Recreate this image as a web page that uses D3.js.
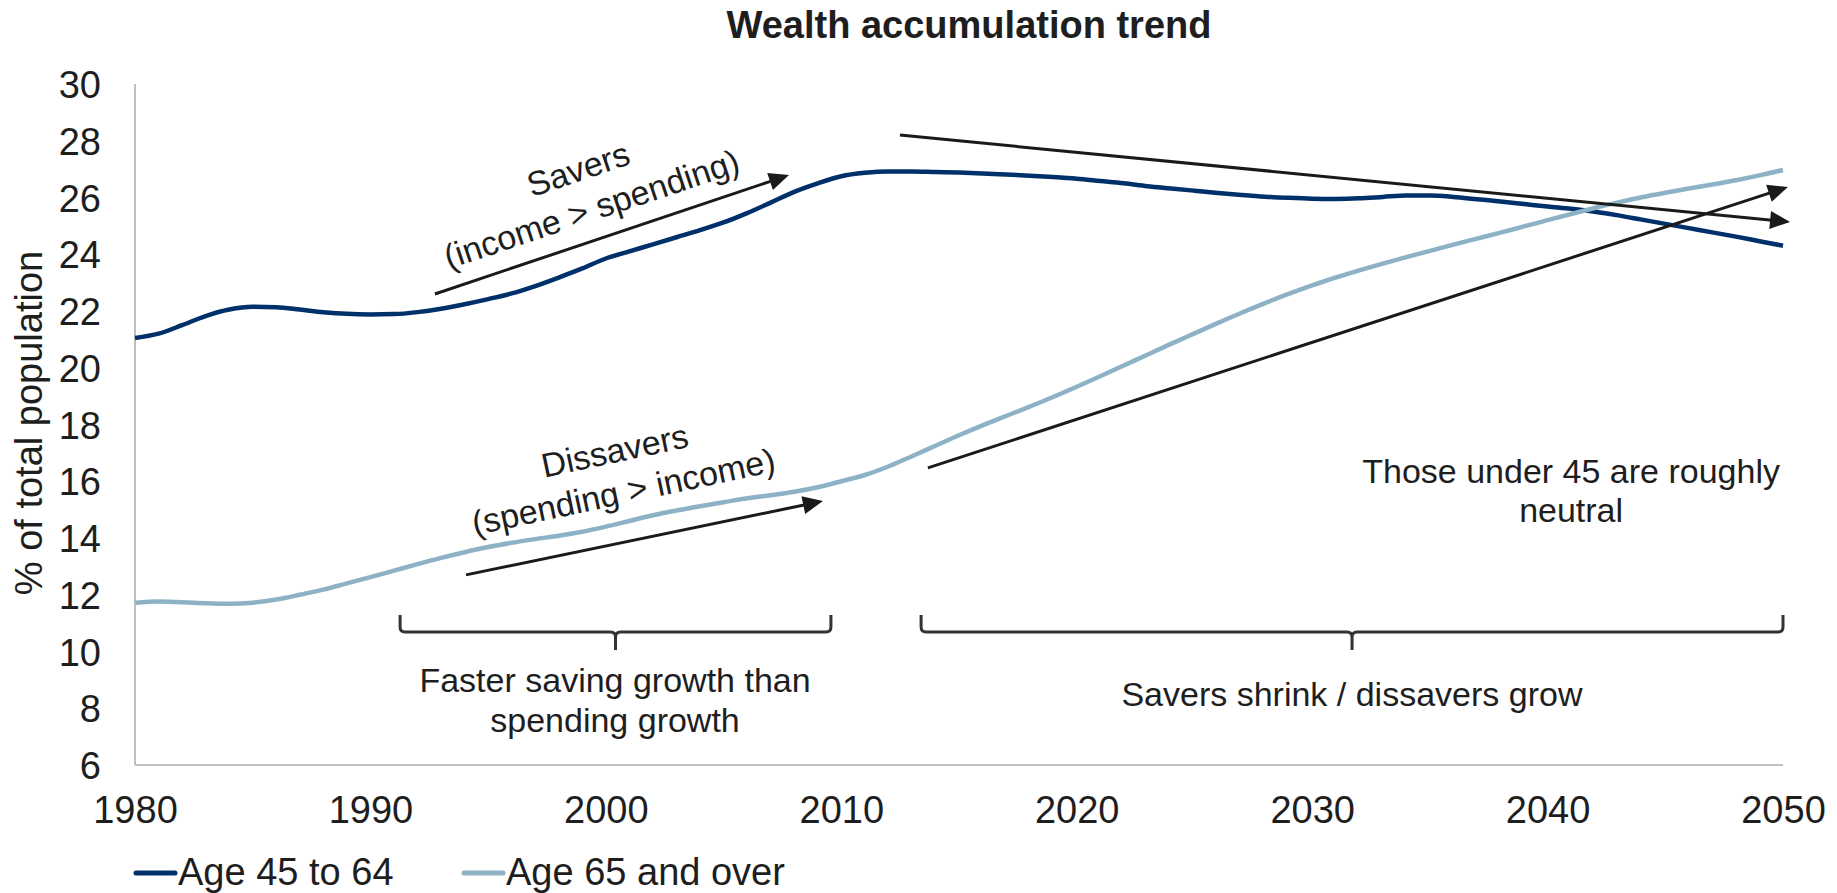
<!DOCTYPE html>
<html>
<head>
<meta charset="utf-8">
<script src="https://cdn.jsdelivr.net/npm/d3@7"></script>
<style>
  html, body { margin: 0; padding: 0; background: #ffffff; }
  svg { display: block; font-family: "Liberation Sans", Arial, Helvetica, sans-serif; }
</style>
</head>
<body>
<svg id="chart" width="1837" height="893"></svg>
<script>
// ---------------- DATA ----------------
const years = [1980,1981,1982,1983,1984,1985,1986,1987,1988,1989,
  1990,1991,1992,1993,1994,1995,1996,1997,1998,1999,
  2000,2001,2002,2003,2004,2005,2006,2007,2008,2009,
  2010,2011,2012,2013,2014,2015,2016,2017,2018,2019,
  2020,2021,2022,2023,2024,2025,2026,2027,2028,2029,
  2030,2031,2032,2033,2034,2035,2036,2037,2038,2039,
  2040,2041,2042,2043,2044,2045,2046,2047,2048,2049,2050];

const age45to64 = [21.05,21.2,21.5,21.82,22.05,22.15,22.13,22.05,21.96,21.9,
  21.88,21.89,21.96,22.08,22.24,22.42,22.62,22.88,23.18,23.5,
  23.85,24.1,24.35,24.6,24.85,25.12,25.45,25.82,26.2,26.5,
  26.75,26.87,26.92,26.92,26.9,26.88,26.85,26.81,26.77,26.72,
  26.66,26.58,26.5,26.4,26.32,26.24,26.16,26.09,26.03,25.99,
  25.96,25.95,25.97,26.02,26.07,26.07,26.02,25.94,25.86,25.77,
  25.68,25.6,25.5,25.37,25.22,25.07,24.92,24.77,24.62,24.46,24.3];

const age65plus = [11.72,11.76,11.74,11.7,11.68,11.72,11.83,12.0,12.18,12.4,
  12.62,12.85,13.08,13.3,13.5,13.68,13.83,13.96,14.08,14.22,
  14.4,14.6,14.8,14.97,15.12,15.26,15.4,15.51,15.63,15.79,
  16.0,16.22,16.52,16.88,17.25,17.62,17.97,18.3,18.63,18.97,
  19.33,19.7,20.08,20.46,20.84,21.21,21.58,21.94,22.28,22.6,
  22.9,23.18,23.43,23.67,23.9,24.12,24.34,24.55,24.76,24.98,
  25.2,25.42,25.63,25.83,26.01,26.17,26.32,26.46,26.61,26.78,26.97];

const seriesNames = ["Age 45 to 64", "Age 65 and over"];
const xTicks = [1980,1990,2000,2010,2020,2030,2040,2050];
const yTicks = [6,8,10,12,14,16,18,20,22,24,26,28,30];

// annotation arrows: [year, value] start -> end
const arrows = [
  [[1992.74, 22.6], [2007.78, 26.79]],
  [[1994.06, 12.70], [2009.22, 15.30]],
  [[2012.49, 28.2], [2050.3, 25.14]],
  [[2013.68, 16.47], [2050.21, 26.37]]
];
// brace spans: [startYear, endYear]
const braces = [[1991.26, 2009.56], [2013.39, 2050.0]];
const braceTopValue = 11.29;
// rotated labels: lines, centre [year, value]
const slantLabels = [
  { lines: ["Savers", "(income > spending)"], at: [1999.11, 26.30], angle: -18.5 },
  { lines: ["Dissavers", "(spending > income)"], at: [2000.56, 16.36], angle: -12 }
];
// flat labels: lines, centre year, first baseline value
const flatLabels = [
  { lines: ["Those under 45 are roughly", "neutral"], at: [2041.0, 15.94] },
  { lines: ["Faster saving growth than", "spending growth"], at: [2000.39, 8.57] },
  { lines: ["Savers shrink / dissavers grow"], at: [2031.69, 8.08] }
];

// ---------------- LAYOUT ----------------
const svg = d3.select("#chart");
const L = 135, R = 1783, T = 84, B = 765;
const x = d3.scaleLinear().domain([1980, 2050]).range([L, R]);
const y = d3.scaleLinear().domain([6, 30]).range([B, T]);
const colors = ["#00306a", "#8db2c6"];
const textColor = "#1e1e1e";

// title
svg.append("text")
  .attr("x", 969).attr("y", 38)
  .attr("text-anchor", "middle")
  .attr("font-size", 38).attr("font-weight", "bold")
  .attr("fill", textColor)
  .text("Wealth accumulation trend");

// axes lines
svg.append("line").attr("x1", L).attr("x2", L).attr("y1", y(30)).attr("y2", y(6))
  .attr("stroke", "#bfbfbf").attr("stroke-width", 2);
svg.append("line").attr("x1", L).attr("x2", R).attr("y1", y(6)).attr("y2", y(6))
  .attr("stroke", "#bfbfbf").attr("stroke-width", 2);

// y tick labels
const yAxis = d3.axisLeft(y).tickValues(yTicks).tickSize(0).tickPadding(34);
const gy = svg.append("g").attr("transform", `translate(${L},0)`).call(yAxis);
gy.select(".domain").remove();
gy.selectAll("text").attr("font-size", 38).attr("fill", textColor)
  .attr("font-family", "Liberation Sans, Arial, sans-serif").attr("dy", "0.36em");

// x tick labels
const xAxis = d3.axisBottom(x).tickValues(xTicks).tickSize(0).tickPadding(0).tickFormat(d3.format("d"));
const gx = svg.append("g").attr("transform", `translate(0,${B})`).call(xAxis);
gx.select(".domain").remove();
gx.selectAll("text").attr("font-size", 38).attr("fill", textColor)
  .attr("font-family", "Liberation Sans, Arial, sans-serif").attr("dy", null).attr("y", 58);

// y axis title
svg.append("text")
  .attr("transform", "translate(42,423) rotate(-90)")
  .attr("text-anchor", "middle")
  .attr("font-size", 38).attr("fill", textColor)
  .text("% of total population");

// series lines
const line = d3.line().x((d, i) => x(years[i])).y(d => y(d)).curve(d3.curveMonotoneX);
[age45to64, age65plus].forEach((s, k) => {
  svg.append("path").datum(s).attr("d", line)
    .attr("fill", "none").attr("stroke", colors[k]).attr("stroke-width", 4.5)
    .attr("stroke-linejoin", "round");
});

// arrows
const headLen = 20, headHalf = 9;
arrows.forEach(a => {
  const x0 = x(a[0][0]), y0 = y(a[0][1]), x1 = x(a[1][0]), y1 = y(a[1][1]);
  const dx = x1 - x0, dy = y1 - y0, len = Math.hypot(dx, dy);
  const ux = dx / len, uy = dy / len;
  const bx = x1 - ux * headLen, by = y1 - uy * headLen;
  svg.append("line").attr("x1", x0).attr("y1", y0).attr("x2", bx + ux * 2).attr("y2", by + uy * 2)
    .attr("stroke", "#1a1a1a").attr("stroke-width", 3);
  svg.append("path")
    .attr("d", `M${x1},${y1}L${bx - uy * headHalf},${by + ux * headHalf}L${bx + uy * headHalf},${by - ux * headHalf}Z`)
    .attr("fill", "#1a1a1a");
});

// braces
braces.forEach(b => {
  const x0 = x(b[0]), x1 = x(b[1]), xm = (x0 + x1) / 2;
  const top = y(braceTopValue), mid = top + 17, tip = top + 35, r = 5;
  const d = `M${x0},${top}L${x0},${mid - r}Q${x0},${mid} ${x0 + r},${mid}` +
            `L${xm - r},${mid}Q${xm},${mid} ${xm},${mid + r}L${xm},${tip}` +
            `M${xm},${mid + r}Q${xm},${mid} ${xm + r},${mid}` +
            `L${x1 - r},${mid}Q${x1},${mid} ${x1},${mid - r}L${x1},${top}`;
  svg.append("path").attr("d", d).attr("fill", "none")
    .attr("stroke", "#333333").attr("stroke-width", 3).attr("stroke-linejoin", "round");
});

// slanted labels
slantLabels.forEach(lb => {
  const g = svg.append("g")
    .attr("transform", `translate(${x(lb.at[0])},${y(lb.at[1])}) rotate(${lb.angle})`);
  const n = lb.lines.length, lh = 42;
  lb.lines.forEach((t, i) => {
    g.append("text").attr("x", 0).attr("y", (i - (n - 1) / 2) * lh)
      .attr("dy", "0.35em").attr("text-anchor", "middle")
      .attr("font-size", 34).attr("fill", textColor).text(t);
  });
});

// flat labels
flatLabels.forEach(lb => {
  lb.lines.forEach((t, i) => {
    svg.append("text").attr("x", x(lb.at[0])).attr("y", y(lb.at[1]) + i * 39.5)
      .attr("text-anchor", "middle").attr("font-size", 34).attr("fill", textColor).text(t);
  });
});

// legend
const legendX = [136, 464];
seriesNames.forEach((name, k) => {
  const lx = legendX[k];
  svg.append("line").attr("x1", lx).attr("x2", lx + 39).attr("y1", 873).attr("y2", 873)
    .attr("stroke", colors[k]).attr("stroke-width", 5).attr("stroke-linecap", "round");
  svg.append("text").attr("x", lx + 42).attr("y", 885)
    .attr("font-size", 38).attr("fill", textColor).text(name);
});
</script>
</body>
</html>
